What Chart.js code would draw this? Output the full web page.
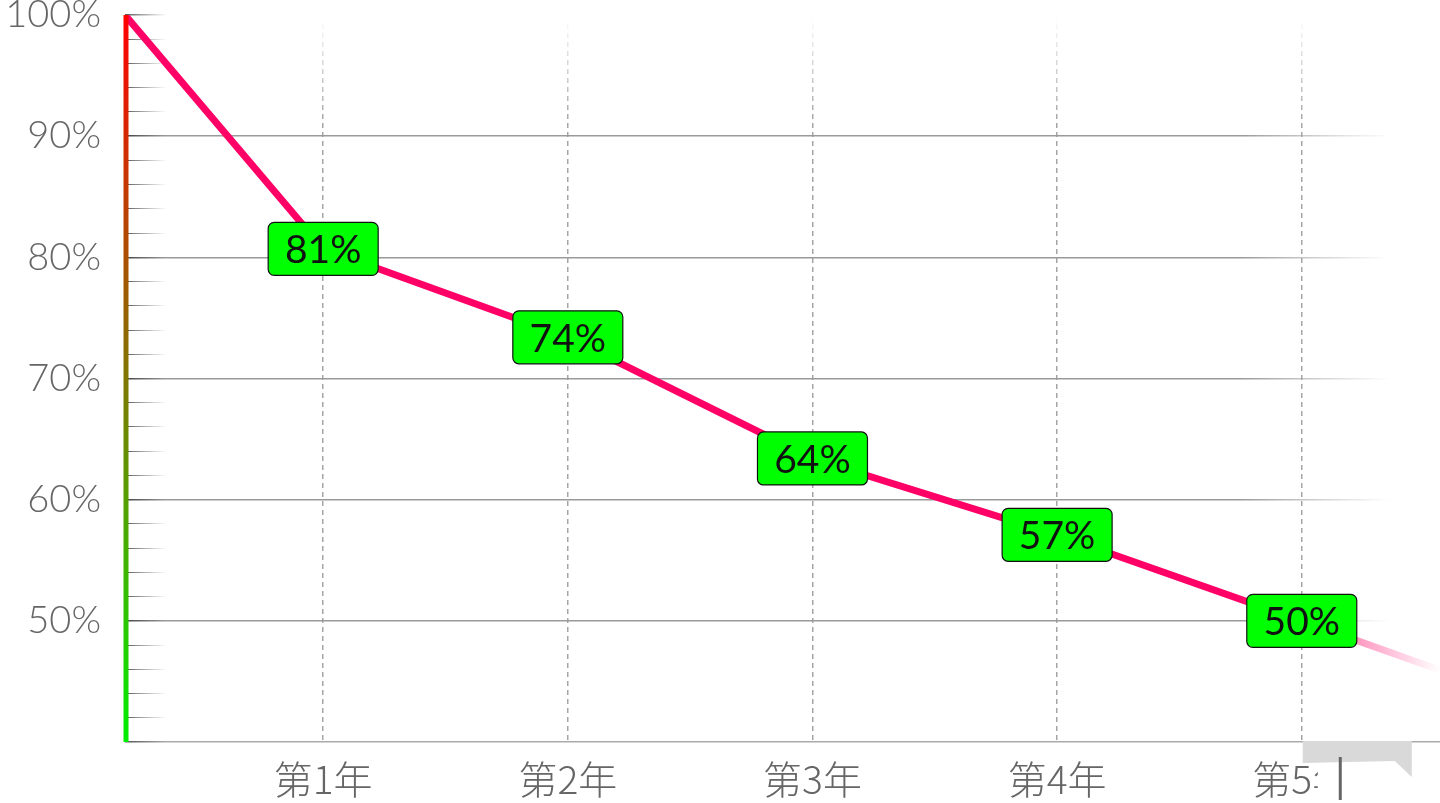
<!DOCTYPE html>
<html>
<head>
<meta charset="utf-8">
<title>留存率</title>
<script src="https://cdn.jsdelivr.net/npm/chart.js@4/dist/chart.umd.min.js"></script>
<style>
  html, body { margin: 0; padding: 0; background: #fff; }
  #wrap { width: 1440px; height: 803px; position: relative; }
</style>
</head>
<body>
<div id="wrap"><canvas id="retentionChart"></canvas></div>
<script>
// data
const years = ['第1年', '第2年', '第3年', '第4年', '第5年'];
const yearPos = [1, 2, 3, 4, 5];
const pointX = [0.19, 1, 2, 3, 4, 5, 6];
const pointY = [100, 80.7, 73.4, 63.4, 57.1, 50.0, 42.8];
const pointLabels = [null, '81%', '74%', '64%', '57%', '50%', null];
const yMajorTicks = [50, 60, 70, 80, 90, 100];

const lineColor = '#ff0066';
const labelFont = '"Lato", "DejaVu Sans", sans-serif';

function hGradient(chart, stops) {
    const area = chart.chartArea;
    const g = chart.ctx.createLinearGradient(area.left, 0, area.right, 0);
    stops.forEach(s => g.addColorStop(Math.min(1, Math.max(0, (s[0] - area.left) / (area.right - area.left))), s[1]));
    return g;
}

function gridColor(context) {
    const chart = context.chart;
    if (!chart.chartArea) return '#999';
    const v = context.tick ? context.tick.value : 0;
    const left = chart.chartArea.left;
    if (v === 40) {
        return hGradient(chart, [[left, '#555'], [left + 40, '#aaa'], [chart.chartArea.right, '#aaa']]);
    }
    if (yMajorTicks.includes(v) && v < 100) {
        return hGradient(chart, [[left, '#444'], [left + 40, '#9a9a9a'], [1240, '#9a9a9a'], [1390, 'rgba(160,160,160,0)']]);
    }
    return hGradient(chart, [[left, '#555'], [left + 42, 'rgba(120,120,120,0)']]);
}

function dashColor(context) {
    const chart = context.chart;
    const area = chart.chartArea;
    if (!area) return '#aaa';
    const g = chart.ctx.createLinearGradient(0, area.top, 0, area.bottom);
    g.addColorStop(0, 'rgba(165,165,165,0)');
    g.addColorStop(0.15, 'rgba(165,165,165,1)');
    g.addColorStop(1, 'rgba(165,165,165,1)');
    return g;
}

const decorations = {
    id: 'decorations',
    afterDatasetsDraw(chart) {
        const ctx = chart.ctx;
        const area = chart.chartArea;
        const xs = chart.scales.x;
        const ys = chart.scales.y;

        // gradient y axis line
        const g = ctx.createLinearGradient(0, area.top, 0, area.bottom);
        g.addColorStop(0, '#ff0000');
        g.addColorStop(1, '#00ee00');
        ctx.save();
        ctx.strokeStyle = g;
        ctx.lineWidth = 5;
        ctx.beginPath();
        ctx.moveTo(area.left + 1, area.top);
        ctx.lineTo(area.left + 1, area.bottom);
        ctx.stroke();

        // value boxes
        ctx.font = '39px ' + labelFont;
        ctx.textAlign = 'center';
        ctx.textBaseline = 'middle';
        pointLabels.forEach((txt, i) => {
            if (!txt) return;
            const cx = xs.getPixelForValue(pointX[i]);
            const cy = ys.getPixelForValue(pointY[i]);
            const w = 110, h = 53;
            ctx.beginPath();
            ctx.roundRect(cx - w / 2, cy - h / 2, w, h, 6);
            ctx.fillStyle = '#00ff00';
            ctx.fill();
            ctx.lineWidth = 1.2;
            ctx.strokeStyle = '#111';
            ctx.stroke();
            ctx.fillStyle = '#111';
            ctx.fillText(txt, cx, cy + 2);
        });
        ctx.restore();
    },
    afterDraw(chart) {
        // grey block over the last year label
        const ctx = chart.ctx;
        const area = chart.chartArea;
        const px = chart.scales.x.getPixelForValue(yearPos[yearPos.length - 1]);
        const top = area.bottom - 1;
        ctx.save();
        ctx.fillStyle = '#fff';
        ctx.fillRect(px + 16, top + 20, 100, 45);
        ctx.fillStyle = '#d9d9d9';
        ctx.beginPath();
        ctx.moveTo(px + 1, top);
        ctx.lineTo(px + 110, top);
        ctx.lineTo(px + 110, top + 36);
        ctx.lineTo(px + 93, top + 20);
        ctx.lineTo(px + 1, top + 22);
        ctx.closePath();
        ctx.fill();
        ctx.fillStyle = '#666';
        ctx.fillRect(px + 37, top + 16, 3, 43);
        ctx.restore();
    }
};

const ctx = document.getElementById('retentionChart').getContext('2d');
new Chart(ctx, {
    type: 'line',
    data: {
        datasets: [{
            data: pointX.map((x, i) => ({ x: x, y: pointY[i] })),
            borderColor: function (context) {
                const chart = context.chart;
                if (!chart.chartArea) return lineColor;
                return hGradient(chart, [[chart.chartArea.left, lineColor], [1235, lineColor], [1440, 'rgba(255,0,102,0)']]);
            },
            borderWidth: 7,
            pointRadius: 0,
            tension: 0,
            fill: false
        }]
    },
    options: {
        responsive: true,
        maintainAspectRatio: false,
        animation: false,
        layout: { padding: 0 },
        plugins: {
            legend: { display: false },
            tooltip: { enabled: false }
        },
        scales: {
            x: {
                type: 'linear',
                min: 0.19,
                max: 5.565,
                afterBuildTicks: scale => { scale.ticks = yearPos.map(v => ({ value: v })); },
                afterFit: scale => { scale.height = 61; scale.paddingLeft = 0; scale.paddingRight = 0; },
                border: { display: false, dash: [5, 4] },
                grid: {
                    color: dashColor,
                    lineWidth: 1.5,
                    drawTicks: false
                },
                ticks: {
                    autoSkip: false,
                    maxRotation: 0,
                    padding: 14,
                    color: '#666',
                    font: { family: '"Noto Sans CJK SC", sans-serif', size: 39, weight: 300 },
                    callback: v => years[yearPos.indexOf(v)]
                }
            },
            y: {
                min: 40,
                max: 100,
                afterFit: scale => { scale.width = 125; scale.paddingTop = 15; scale.paddingBottom = 0; },
                border: { display: false },
                grid: {
                    color: gridColor,
                    lineWidth: context => (context.tick && context.tick.value % 10 === 0 ? 1.6 : 1),
                    drawTicks: false
                },
                ticks: {
                    stepSize: 2,
                    autoSkip: false,
                    padding: 24,
                    color: '#666',
                    font: { family: labelFont, size: 38, weight: 300 },
                    callback: v => (yMajorTicks.includes(v) ? v + '%' : '')
                }
            }
        }
    },
    plugins: [decorations]
});
</script>
</body>
</html>
